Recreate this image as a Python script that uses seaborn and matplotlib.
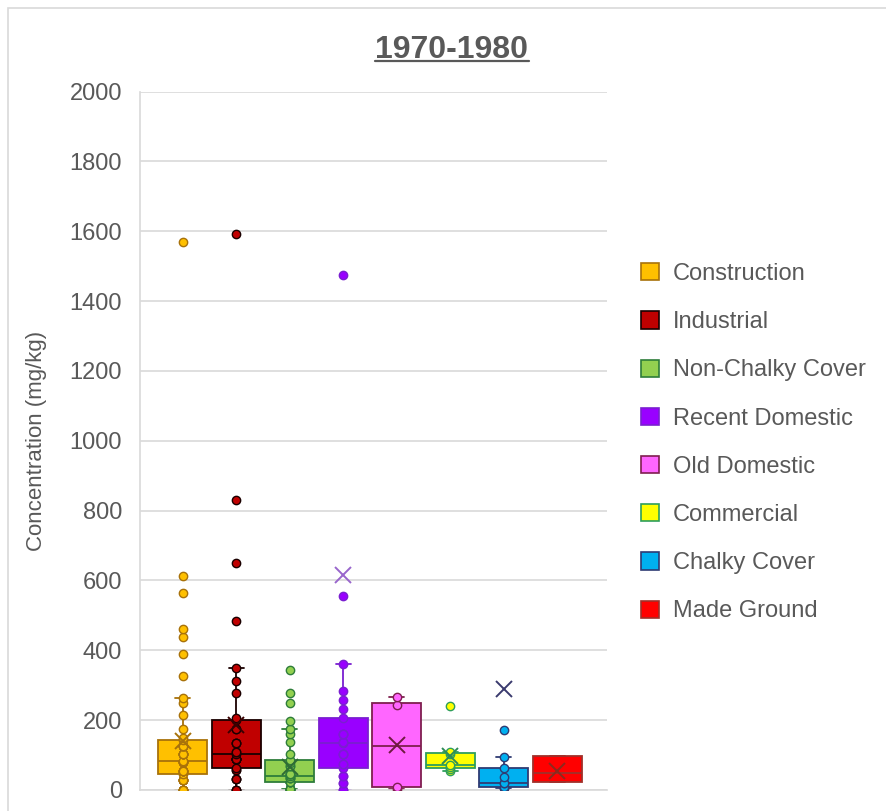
import matplotlib
matplotlib.use("Agg")
import matplotlib.pyplot as plt
import matplotlib.patches as mpatches
from matplotlib.lines import Line2D
import pandas as pd
import seaborn as sns

sns.set_theme(style="white")
plt.rcParams["font.family"] = ["Liberation Sans", "DejaVu Sans"]

TEXT_GREY = "#595959"
GRID_GREY = "#D9D9D9"

CATEGORIES = ["Construction", "Industrial", "Non-Chalky Cover", "Recent Domestic",
              "Old Domestic", "Commercial", "Chalky Cover", "Made Ground"]

# concentrations (mg/kg), one list per land-use class;
# repeated values are samples that sit on top of each other in the original
construction = [0, 0, 0, 0, 0, 0, 30, 30, 30, 30, 30, 30, 46,
                53, 53, 53, 53, 53, 53, 80, 80, 80, 80, 80, 84,
                104, 104, 104, 104, 104, 104, 127, 127, 127, 127, 127, 144,
                150, 174, 214, 250, 264, 327, 390, 437, 460, 564, 612, 1570]
industrial = [0, 0, 0, 32, 32, 32, 56, 56, 63,
              89, 89, 89, 89, 89, 89, 89, 104,
              110, 110, 134, 134, 134, 176, 176, 201,
              207, 278, 312, 350, 485, 650, 830, 1592]
non_chalky = [3, 3, 3, 3, 3, 3, 3, 3, 22,
              22, 22, 22, 22, 35, 35, 35, 41,
              46, 46, 46, 46, 70, 70, 78, 87,
              104, 137, 161, 174, 198, 250, 279, 343]
recent_domestic = [0, 0, 20, 20, 41, 41, 63,
                   75, 75, 104, 104, 104, 134,
                   137, 137, 161, 161, 161, 207,
                   233, 257, 284, 362, 555, 1475]
old_domestic = [4, 10, 244, 266]
commercial = [53, 60, 66, 72, 104, 108, 240]
chalky_cover = [5, 5, 10, 20, 20, 38, 62, 94, 171]
made_ground = [24, 24, 50, 96, 96]

SERIES = [construction, industrial, non_chalky, recent_domestic,
          old_domestic, commercial, chalky_cover, made_ground]

# category means (the "x" markers) as shown on the chart
MEANS = [140, 185, 65, 617, 130, 96, 290, 55]

FILL = ["#FFC000", "#C00000", "#92D050", "#9900FF",
        "#FF66FF", "#FFFF00", "#00B0F0", "#FF0000"]
EDGE = ["#A8720A", "#1A0000", "#2E7D3A", "#7A1FD0",
        "#7F1F4F", "#2E9E5B", "#2F3B73", "#A0302A"]
MEAN_COLOR = ["#A8720A", "#3A0000", "#2E6B35", "#9966CC",
              "#6E1A40", "#2E8B57", "#3A3A6E", "#8B2A1E"]
NO_POINTS = {"Made Ground"}

df = pd.DataFrame(
    [(cat, v) for cat, vals in zip(CATEGORIES, SERIES) for v in vals],
    columns=["Type", "Concentration"],
)

fig = plt.figure(figsize=(8.87, 8.11), dpi=100)
ax = fig.add_axes([140 / 887, 1 - 790 / 811, 467 / 887, (790 - 91.5) / 811])

for cat, fill, edge in zip(CATEGORIES, FILL, EDGE):
    sub = df[df["Type"] == cat]
    sns.boxplot(
        data=sub, x="Type", y="Concentration", order=CATEGORIES,
        color=fill, linecolor=edge, linewidth=1.3, width=0.92, saturation=1,
        showfliers=False, whis=1.5, capwidths=0.28, ax=ax,
    )
    if cat not in NO_POINTS:
        sns.stripplot(
            data=sub, x="Type", y="Concentration", order=CATEGORIES,
            color=fill, edgecolor=edge, linewidth=1, size=6, jitter=False,
            zorder=3, ax=ax,
        )

sns.pointplot(
    x=CATEGORIES, y=MEANS, order=CATEGORIES, hue=CATEGORIES,
    palette=dict(zip(CATEGORIES, MEAN_COLOR)), markers="x", linestyles="none",
    errorbar=None, legend=False, markersize=12, markeredgewidth=1.4, ax=ax,
)
for ln in ax.lines[-len(CATEGORIES):]:
    ln.set_zorder(4)

ax.set_ylim(0, 2000)
ax.set_yticks(range(0, 2001, 200))
ax.set_xlim(-0.8, 7.93)
ax.set_xticks([])
ax.set_xlabel("")
ax.set_ylabel("Concentration (mg/kg)", fontsize=16, color=TEXT_GREY)
ax.yaxis.set_label_coords(-0.199, 0.5)
ax.tick_params(axis="y", length=0, labelsize=17, labelcolor=TEXT_GREY, pad=13)
ax.yaxis.grid(True, color=GRID_GREY, linewidth=1.2)
ax.set_axisbelow(True)
for side in ["top", "right"]:
    ax.spines[side].set_visible(False)
for side in ["left", "bottom"]:
    ax.spines[side].set_color(GRID_GREY)
    ax.spines[side].set_linewidth(1.2)

# title, underlined like the Excel original
title = fig.text(452 / 887, 1 - 58 / 811, "1970-1980", ha="center", va="baseline",
                 fontsize=23, fontweight="bold", color=TEXT_GREY)
fig.canvas.draw()
bb = title.get_window_extent().transformed(fig.transFigure.inverted())
fig.add_artist(Line2D([bb.x0, bb.x1], [1 - 61 / 811] * 2, color=TEXT_GREY,
                      linewidth=1.6, transform=fig.transFigure))

handles = [mpatches.Rectangle((0, 0), 1, 1, facecolor=f, edgecolor=e, linewidth=1.2)
           for f, e in zip(FILL, EDGE)]
fig.legend(handles, CATEGORIES, loc="upper left", bbox_to_anchor=(641 / 887, 1 - 263 / 811),
           frameon=False, fontsize=17, labelcolor=TEXT_GREY, labelspacing=1.11,
           handlelength=0.75, handleheight=0.75, handletextpad=0.6,
           borderpad=0, borderaxespad=0)

# light chart-area border
fig.add_artist(mpatches.Rectangle((8 / 887, -0.05), 1.05, 1 - 8 / 811 + 0.05,
                                  transform=fig.transFigure, fill=False,
                                  edgecolor=GRID_GREY, linewidth=1.2))

fig.savefig("out.png", dpi=100)
